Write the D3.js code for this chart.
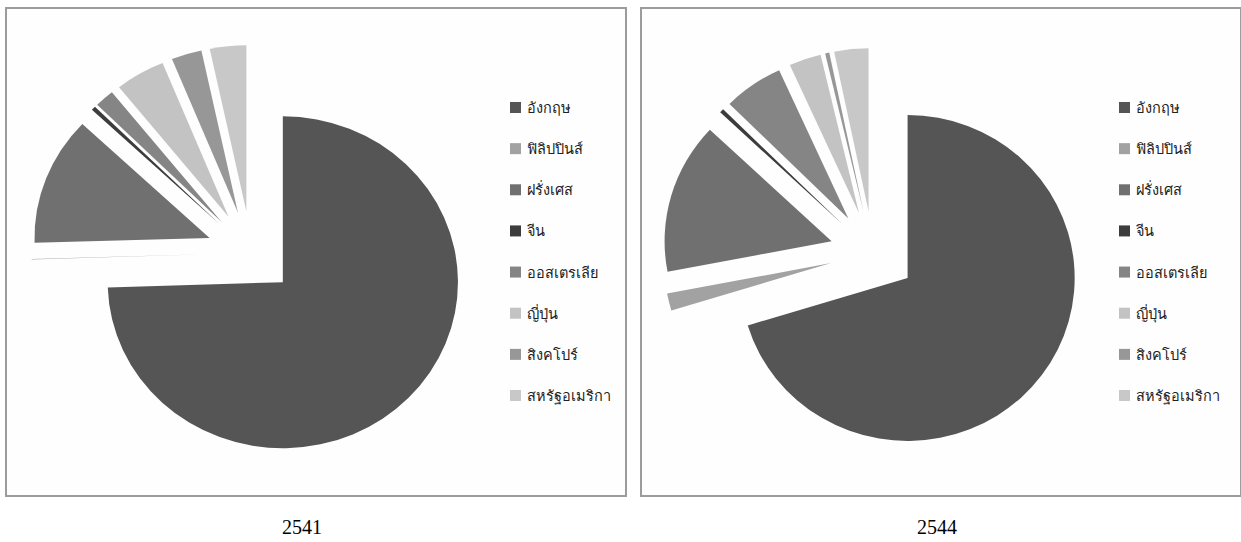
<!DOCTYPE html>
<html>
<head>
<meta charset="utf-8">
<script src="https://cdn.jsdelivr.net/npm/d3@7"></script>
<style>
  html, body { margin: 0; padding: 0; background: #ffffff; }
  svg { display: block; }
</style>
</head>
<body>
<svg id="chart" width="1241" height="542"></svg>
<script>
// Countries (legend order, also slice order clockwise from 12 o'clock)
const countries = ["อังกฤษ", "ฟิลิปปินส์", "ฝรั่งเศส", "จีน", "ออสเตรเลีย", "ญี่ปุ่น", "สิงคโปร์", "สหรัฐอเมริกา"];
const sliceColors = ["#555555", "#a2a2a2", "#707070", "#3c3c3c", "#858585", "#c3c3c3", "#979797", "#c8c8c8"];

// Shares (%) per year
const years = ["2541", "2544"];
const values2541 = [74.5, 0.05, 12.5, 0.4, 1.8, 4.6, 2.8, 3.35];
const values2544 = [70.3, 1.7, 15.0, 0.4, 5.8, 3.1, 0.4, 3.3];

const svg = d3.select("#chart");

// each pie is drawn slightly wider than tall (sx = horizontal stretch)
const panels = [
  { year: years[0], values: values2541, x: 6,   w: 620, cx: 251, cy: 253, r: 166, sx: 1.055, legendX: 510, labelX: 302 },
  { year: years[1], values: values2544, x: 641, w: 600, cx: 873, cy: 253, r: 163, sx: 1.025, legendX: 1119, labelX: 937 }
];

const explode = 42;

const pie = d3.pie().sort(null).value(d => d).startAngle(0).endAngle(2 * Math.PI);
const color = d3.scaleOrdinal().domain(countries).range(sliceColors);
const rowY = d3.scalePoint().domain(countries).range([108, 396]);

panels.forEach(p => {
  const g = svg.append("g");
  const arc = d3.arc().innerRadius(0).outerRadius(p.r);

  // panel frame
  g.append("rect")
    .attr("x", p.x).attr("y", 8)
    .attr("width", p.w).attr("height", 488)
    .attr("fill", "#fefefe")
    .attr("stroke", "#9c9c9c")
    .attr("stroke-width", 2);

  // exploded pie slices
  const arcs = pie(p.values);
  g.append("g")
    .attr("transform", `translate(${p.cx},${p.cy}) scale(${p.sx},1)`)
    .selectAll("path")
    .data(arcs)
    .join("path")
    .attr("d", arc)
    .attr("fill", (d, i) => color(countries[i]))
    .attr("transform", d => {
      const mid = (d.startAngle + d.endAngle) / 2;
      return `translate(${explode * Math.sin(mid)},${-explode * Math.cos(mid)})`;
    });

  // legend
  const lg = g.append("g").selectAll("g")
    .data(countries)
    .join("g")
    .attr("transform", c => `translate(${p.legendX},${rowY(c)})`);
  lg.append("rect")
    .attr("x", 0).attr("y", -6)
    .attr("width", 11).attr("height", 11)
    .attr("fill", c => color(c));
  lg.append("text")
    .attr("x", 17).attr("y", 5)
    .attr("font-family", "Tahoma, 'DejaVu Sans', sans-serif")
    .attr("font-size", 14.5)
    .attr("fill", "#222222")
    .text(c => c);

  // year caption
  svg.append("text")
    .attr("x", p.labelX).attr("y", 534)
    .attr("text-anchor", "middle")
    .attr("font-family", "'Liberation Serif', 'Times New Roman', serif")
    .attr("font-size", 20)
    .attr("fill", "#000000")
    .text(p.year);
});
</script>
</body>
</html>
